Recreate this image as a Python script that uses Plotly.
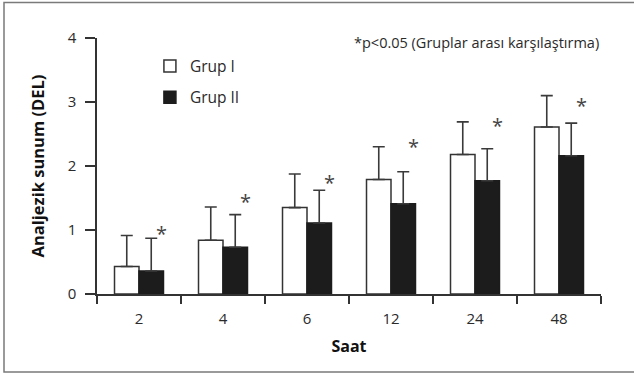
import plotly.graph_objects as go

hours = ["2", "4", "6", "12", "24", "48"]
grup1 = [0.43, 0.84, 1.35, 1.79, 2.18, 2.61]
grup1_err = [0.485, 0.52, 0.525, 0.51, 0.51, 0.49]
grup2 = [0.36, 0.73, 1.11, 1.41, 1.77, 2.16]
grup2_err = [0.51, 0.51, 0.51, 0.50, 0.50, 0.51]
star_y = [1.02, 1.52, 1.82, 2.38, 2.71, 3.03]
y_ticks = [0, 1, 2, 3, 4]

FONT = "Open Sans"
INK = "#2a2a2a"
xpos = list(range(len(hours)))

fig = go.Figure()
fig.add_trace(go.Bar(
    x=xpos, y=grup1, name="Grup I", legendgroup="g1",
    marker=dict(color="white", line=dict(color="#333333", width=1.5)),
    error_y=dict(type="data", array=grup1_err, arrayminus=[0]*6, symmetric=False,
                 color="#3a3a3a", thickness=1.6, width=6),
))
fig.add_trace(go.Bar(
    x=xpos, y=grup2, name="Grup II", legendgroup="g2",
    marker=dict(color="#1c1c1c", line=dict(color="#1c1c1c", width=1.5)),
    error_y=dict(type="data", array=grup2_err, arrayminus=[0]*6, symmetric=False,
                 color="#3a3a3a", thickness=1.6, width=6),
))

star_annotations = [
    dict(x=i + 0.27, y=sy, xref="x", yref="y", text="*", showarrow=False,
         xanchor="center", yanchor="middle", yshift=-5,
         font=dict(family=FONT, size=20, color="#444444"))
    for i, sy in zip(xpos, star_y)
]

fig.update_layout(
    width=634, height=376,
    margin=dict(l=97, r=33, t=38, b=82),
    paper_bgcolor="white", plot_bgcolor="white",
    barmode="group", bargap=0.417, bargroupgap=0,
    font=dict(family=FONT, size=15, color=INK),
    legend=dict(x=0.105, y=0.955, xanchor="left", yanchor="top",
                font=dict(family=FONT, size=15.5, color=INK),
                bgcolor="rgba(0,0,0,0)", tracegroupgap=8, traceorder="grouped"),
    xaxis=dict(
        range=[-0.5, 5.5], tickmode="array", tickvals=xpos, ticktext=hours,
        ticks="outside", ticklen=10, tickcolor="rgba(0,0,0,0)",
        showline=True, linecolor="#333333", linewidth=1.5,
        showgrid=False, zeroline=False,
        tickfont=dict(family=FONT, size=15, color=INK),
        minor=dict(tickmode="linear", tick0=-0.5, dtick=1, ticks="outside",
                   ticklen=8, tickcolor="#333333", tickwidth=1.5, showgrid=False),
        title=dict(text="<b>Saat</b>", font=dict(family=FONT, size=16, color="#111111"),
                   standoff=14),
    ),
    yaxis=dict(
        range=[0, 4], tickmode="array", tickvals=y_ticks,
        ticks="outside", ticklen=10, tickcolor="#333333", tickwidth=1.5,
        showline=True, linecolor="#333333", linewidth=1.5,
        showgrid=False, zeroline=False, ticklabelstandoff=6,
        tickfont=dict(family=FONT, size=15, color=INK),
        title=dict(text="<b>Analjezik sunum (DEL)</b>",
                   font=dict(family=FONT, size=16.5, color="#111111"), standoff=19),
    ),
    annotations=[dict(
        text="*p<0.05 (Gruplar arası karşılaştırma)", xref="paper", yref="paper",
        x=1.0, y=(294 - 42) / 256, xanchor="right", yanchor="middle", showarrow=False,
        font=dict(family=FONT, size=14.5, color=INK),
    )] + star_annotations,
    shapes=[dict(type="rect", xref="paper", yref="paper",
                 x0=(4 - 97) / 504, x1=(645 - 97) / 504,
                 y0=(294 - 372) / 256, y1=(294 - 2.5) / 256,
                 line=dict(color="#7a7a7a", width=1.5), layer="below")],
)

fig.write_html("out.html")
